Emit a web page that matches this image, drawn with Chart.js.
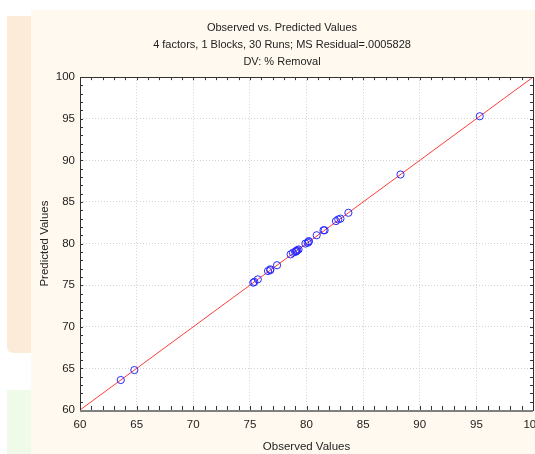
<!DOCTYPE html>
<html>
<head>
<meta charset="utf-8">
<script src="https://cdn.jsdelivr.net/npm/chart.js@4.4.0/dist/chart.umd.min.js"></script>
<style>
  html, body { margin: 0; padding: 0; background: #fff; overflow: hidden; width: 535px; height: 454px; }
  .panel { position: absolute; }
  #cream { left: 31px; top: 10px; width: 504px; height: 444px; background: #fff9ef; }
  #peach { left: 7px; top: 16px; width: 24px; height: 337px; background: #fdebda; border-bottom-left-radius: 6px; }
  #green { left: 7px; top: 390px; width: 24px; height: 64px; background: #f0fae8; }
  #wrap { position: absolute; left: 0; top: 0; width: 560px; height: 454px; }
</style>
</head>
<body>
<div class="panel" id="peach"></div>
<div class="panel" id="green"></div>
<div class="panel" id="cream"></div>
<div id="wrap"><canvas id="chart" width="560" height="454"></canvas></div>
<script>
// observed vs predicted, 30 runs
const observed = [63.6, 64.8, 75.3, 75.7, 76.6, 76.8, 77.4, 78.6, 78.8, 79.0,
                  79.1, 79.2, 79.3, 79.1, 79.9, 80.1, 80.2, 80.2, 80.9, 81.5,
                  81.6, 82.6, 82.8, 83.0, 83.7, 88.3, 95.3, 79.1, 76.8, 75.4];
const predicted = [63.6, 64.8, 75.3, 75.7, 76.7, 76.9, 77.4, 78.7, 78.9, 79.0,
                   79.1, 79.2, 79.3, 79.1, 80.0, 80.1, 80.3, 80.2, 81.0, 81.6,
                   81.6, 82.7, 82.9, 83.0, 83.7, 88.3, 95.3, 79.1, 76.8, 75.4];
const fitX = [60, 100];
const fitY = [60, 100];

const titleLines = ["Observed vs. Predicted Values",
                    "4 factors, 1 Blocks, 30 Runs; MS Residual=.0005828",
                    "DV: % Removal"];

const fontFam = "'Liberation Sans', Arial, sans-serif";

const plotBg = {
    id: "plotBg",
    beforeDraw(chart) {
        const { ctx, chartArea: a } = chart;
        ctx.save();
        ctx.fillStyle = "#ffffff";
        ctx.fillRect(a.left, a.top, a.right - a.left, a.bottom - a.top);
        ctx.restore();
    }
};

// frame + inward minor ticks on all four sides
const frameTicks = {
    id: "frameTicks",
    afterDatasetsDraw(chart) {
        const { ctx, chartArea: a, scales } = chart;
        ctx.save();
        ctx.strokeStyle = "#333";
        ctx.lineWidth = 1;
        ctx.beginPath();
        for (let v = 60; v <= 100; v++) {
            const len = 3;
            const px = Math.round(scales.x.getPixelForValue(v)) + 0.5;
            const py = Math.round(scales.y.getPixelForValue(v)) + 0.5;
            ctx.moveTo(px, a.top); ctx.lineTo(px, a.top + len);
            ctx.moveTo(px, a.bottom); ctx.lineTo(px, a.bottom - len - 1);
            ctx.moveTo(a.left, py); ctx.lineTo(a.left + len, py);
            ctx.moveTo(a.right, py); ctx.lineTo(a.right - len, py);
        }
        ctx.stroke();
        ctx.strokeStyle = "#303030";
        ctx.strokeRect(Math.round(a.left) + 0.5, Math.round(a.top) + 0.5,
                       Math.round(a.right - a.left), Math.round(a.bottom - a.top));
        ctx.strokeStyle = "#808080";
        ctx.lineWidth = 2;
        ctx.beginPath();
        ctx.moveTo(a.left, Math.round(a.bottom) + 1);
        ctx.lineTo(a.right, Math.round(a.bottom) + 1);
        ctx.stroke();
        ctx.restore();
    }
};

const ctx = document.getElementById("chart").getContext("2d");
new Chart(ctx, {
    type: "scatter",
    data: {
        datasets: [
            {
                label: "Observed vs Predicted",
                data: observed.map((x, i) => ({ x, y: predicted[i] })),
                pointStyle: "circle",
                pointRadius: 3.6,
                pointBorderColor: "#2a2aff",
                pointBackgroundColor: "rgba(0,0,0,0)",
                pointBorderWidth: 1,
                showLine: false,
                order: 1
            },
            {
                label: "Fit",
                type: "line",
                data: fitX.map((x, i) => ({ x, y: fitY[i] })),
                borderColor: "#ff3c3c",
                borderWidth: 1,
                pointRadius: 0,
                fill: false,
                order: 2
            }
        ]
    },
    options: {
        responsive: false,
        animation: false,
        layout: { padding: { left: 31, right: 27, top: 0, bottom: 0 } },
        plugins: {
            legend: { display: false },
            tooltip: { enabled: false },
            title: {
                display: true,
                text: titleLines,
                color: "#222",
                font: { family: fontFam, size: 11, weight: "normal", lineHeight: 1.55 },
                padding: { top: 19, bottom: 7 }
            }
        },
        scales: {
            x: {
                type: "linear",
                min: 60, max: 100,
                afterFit(scale) { scale.height = 44; },
                ticks: { stepSize: 5, padding: 8, color: "#222", font: { family: fontFam, size: 11.5 } },
                grid: { color: "#d2d2d2", drawTicks: false },
                border: { display: false, dash: [1, 2] },
                title: {
                    display: true, text: "Observed Values", color: "#222",
                    font: { family: fontFam, size: 11.5 }, padding: { top: 0, bottom: 0 }
                }
            },
            y: {
                type: "linear",
                min: 60, max: 100,
                afterFit(scale) { scale.width = 49; },
                ticks: { stepSize: 5, padding: 5, color: "#222", font: { family: fontFam, size: 11.5 } },
                grid: { color: "#d2d2d2", drawTicks: false },
                border: { display: false, dash: [1, 2] },
                title: {
                    display: true, text: "Predicted Values", color: "#222",
                    font: { family: fontFam, size: 11.5 }, padding: { top: 7, bottom: 0 }
                }
            }
        }
    },
    plugins: [plotBg, frameTicks]
});
</script>
</body>
</html>
